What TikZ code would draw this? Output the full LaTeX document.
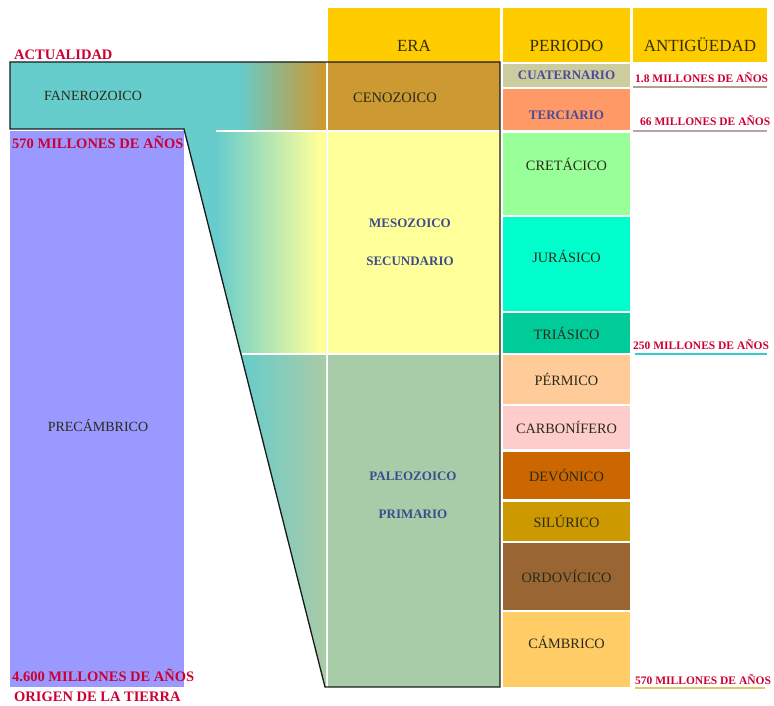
\documentclass[tikz,border=0pt]{standalone}
\usepackage{fontspec}
\setmainfont{Liberation Serif}

\definecolor{headgold}{HTML}{FFCC00}
\definecolor{fanero}{HTML}{66CCCC}
\definecolor{prec}{HTML}{9999FF}
\definecolor{ceno}{HTML}{CC9933}
\definecolor{meso}{HTML}{FFFF99}
\definecolor{paleo}{HTML}{A8CBA8}
\definecolor{cuat}{HTML}{CCCC9F}
\definecolor{terc}{HTML}{FF9966}
\definecolor{cret}{HTML}{99FF99}
\definecolor{jura}{HTML}{00FFCC}
\definecolor{tria}{HTML}{00CC99}
\definecolor{perm}{HTML}{FFCC99}
\definecolor{carb}{HTML}{FFCCCC}
\definecolor{devo}{HTML}{CC6600}
\definecolor{silu}{HTML}{CC9900}
\definecolor{ordo}{HTML}{996633}
\definecolor{camb}{HTML}{FFCC66}
\definecolor{headtxt}{HTML}{332E00}
\definecolor{eratxt}{HTML}{3F4C8C}
\definecolor{pertxt}{HTML}{2A2A18}
\definecolor{recenttxt}{HTML}{4B4B9A}
\definecolor{agered}{HTML}{CC0033}
\definecolor{outl}{HTML}{1A1A1A}
\definecolor{line18}{HTML}{B0A090}
\definecolor{line66}{HTML}{BEA0A0}
\definecolor{line250}{HTML}{33CCCC}
\definecolor{line570}{HTML}{DDCC66}

\begin{document}
\begin{tikzpicture}
  [x=1pt, y=-1pt,
   box/.style={inner sep=0, outer sep=0},
   head/.style={box, fill=headgold, minimum height=54, text height=33pt, text depth=0pt,
     text=headtxt, font=\fontsize{17}{17}\selectfont},
   era/.style={box, minimum width=172},
   eraname/.style={inner sep=0, text=eratxt, align=center, font=\fontsize{13}{38}\selectfont\bfseries},
   period/.style={box, minimum width=127, text=pertxt, font=\fontsize{14.3}{15}\selectfont},
   recent/.style={period, text=recenttxt, font=\fontsize{13}{14}\selectfont\bfseries},
   lift/.style={text height=10pt, text depth=#1},
   eonname/.style={inner sep=0, text=pertxt, font=\fontsize{14}{15}\selectfont},
   redlabel/.style={inner sep=0, anchor=west, text=agered, font=\fontsize{14.5}{15}\selectfont\bfseries},
   agelabel/.style={inner sep=0, anchor=west, text=agered, font=\fontsize{11.5}{12}\selectfont\bfseries},
   uline/.style={line width=1.5},
   outline/.style={line width=1.3, draw=outl}]

  \useasboundingbox (0,0) rectangle (774,706);

  % funnel from the eon bar to the eras
  \coordinate (tl) at (10,62);
  \coordinate (tr) at (500,62);
  \coordinate (br) at (500,687);
  \coordinate (bl) at (325,687);
  \coordinate (kink) at (184,129);
  \coordinate (ll) at (10,129);
  \fill[fanero] (tl) -- (326,62) -- (326,687) -- (bl) -- (kink) -- (ll) -- cycle;
  \begin{scope}
    \clip (tl) -- (326,62) -- (326,687) -- (bl) -- (kink) -- (ll) -- cycle;
    \shade[left color=fanero, right color=ceno] (238,62) rectangle (322,130);
    \fill[ceno] (322,62) rectangle (326,130);
    \shade[left color=fanero, right color=meso] (216,132) rectangle (320,353);
    \fill[meso] (320,132) rectangle (326,353);
    \shade[left color=fanero, right color=paleo] (242,355) rectangle (322,687);
    \fill[paleo] (322,355) rectangle (326,687);
    \fill[white] (216,130) rectangle (326,132);
    \fill[white] (242,353) rectangle (326,355);
  \end{scope}

  % eon
  \node[box, fill=prec, minimum width=174, minimum height=556] (precbox) at (97,409) {};

  % eras
  \node[era, fill=ceno, minimum height=68] (ceno) at (414,96) {};
  \node[era, fill=meso, minimum height=221] (meso) at (414,242.5) {};
  \node[era, fill=paleo, minimum height=332] (paleo) at (414,521) {};

  % periods
  \node[recent, fill=cuat, minimum height=23] (cuat) at (566.5,75.5) {CUATERNARIO};
  \node[recent, fill=terc, minimum height=41, text height=20pt, text depth=0pt] (terc) at (566.5,109.5) {TERCIARIO};
  \node[period, fill=cret, minimum height=82, lift=16.6pt] (cret) at (566.5,174) {CRETÁCICO};
  \node[period, fill=jura, minimum height=94, lift=12.6pt] (jura) at (566.5,264) {JURÁSICO};
  \node[period, fill=tria, minimum height=40] (tria) at (566.5,333) {TRIÁSICO};
  \node[period, fill=perm, minimum height=49] (perm) at (566.5,379.5) {PÉRMICO};
  \node[period, fill=carb, minimum height=43] (carb) at (566.5,427.5) {CARBONÍFERO};
  \node[period, fill=devo, minimum height=47] (devo) at (566.5,475.5) {DEVÓNICO};
  \node[period, fill=silu, minimum height=39] (silu) at (566.5,521.5) {SILÚRICO};
  \node[period, fill=ordo, minimum height=67] (ordo) at (566.5,576.5) {ORDOVÍCICO};
  \node[period, fill=camb, minimum height=75, lift=11.6pt] (camb) at (566.5,649.5) {CÁMBRICO};

  % column heads
  \node[head, minimum width=172] (erahead) at (414,35) {ERA};
  \node[head, minimum width=127] (perhead) at (566.5,35) {PERIODO};
  \node[head, minimum width=134] (agehead) at (700,35) {ANTIGÜEDAD};

  \draw[outline] (tl) -- (tr) -- (br) -- (bl) -- (kink) -- (ll) -- cycle;

  % names
  \node[eonname] (fanerotxt) at (93,96) {FANEROZOICO};
  \node[eonname] (prectxt) at (98,426) {PRECÁMBRICO};
  \node[eraname, text=pertxt, font=\fontsize{14.5}{15}\selectfont] (cenotxt) at (395,98) {CENOZOICO};
  \node[eraname] (mesotxt) at (410,242) {MESOZOICO\\SECUNDARIO};
  \node[eraname] (paleotxt) at (413,495) {PALEOZOICO\\PRIMARIO};

  % dates on the left
  \node[redlabel] (actual) at (14,55) {ACTUALIDAD};
  \node[redlabel] (left570) at (12,142) {570 MILLONES DE AÑOS};
  \node[redlabel] (left4600) at (12,675) {4.600 MILLONES DE AÑOS};
  \node[redlabel] (origen) at (14,697) {ORIGEN DE LA TIERRA};

  % dates on the right
  \node[agelabel] (age18) at (635,78) {1.8 MILLONES DE AÑOS};
  \node[agelabel] (age66) at (640,121) {66 MILLONES DE AÑOS};
  \node[agelabel] (age250) at (633,345) {250 MILLONES DE AÑOS};
  \node[agelabel] (age570) at (635,680) {570 MILLONES DE AÑOS};
  \draw[uline, line18] (633,87) -- (767,87);
  \draw[uline, line66] (633,131) -- (767,131);
  \draw[uline, line250] (635,354) -- (767,354);
  \draw[uline, line570] (635,688) -- (765,688);

\end{tikzpicture}
\end{document}
